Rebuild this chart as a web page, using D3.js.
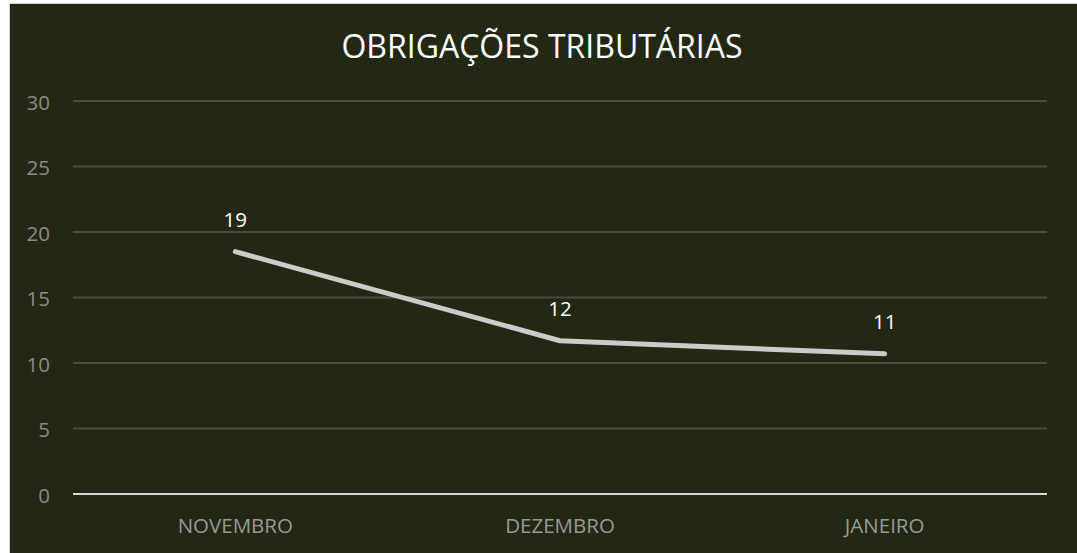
<!DOCTYPE html>
<meta charset="utf-8">
<style>
body {
  margin: 0;
  background: #fff;
}
text {
  font-family: "Open Sans", "Noto Sans", sans-serif;
}
</style>
<svg width="1077" height="553"></svg>
<script src="https://cdn.jsdelivr.net/npm/d3@7"></script>
<script>

var months = ["NOVEMBRO", "DEZEMBRO", "JANEIRO"];
var values = [18.5, 11.7, 10.7];
var yTicks = [0, 5, 10, 15, 20, 25, 30];

var svg = d3.select("svg");

// chart frame
svg.append("rect")
  .attr("x", 9.5).attr("y", 3.5)
  .attr("width", 1077).attr("height", 560)
  .attr("fill", "#222814")
  .attr("stroke", "#d0d0d0");

var x = d3.scaleBand()
  .domain(months)
  .range([73, 1047]);

var y = d3.scaleLinear()
  .domain([0, 30])
  .range([494, 101]);

// gridlines
svg.append("g")
  .selectAll("line")
  .data(yTicks)
  .enter().append("line")
  .attr("x1", 73)
  .attr("x2", 1047)
  .attr("y1", function(d) { return y(d); })
  .attr("y2", function(d) { return y(d); })
  .attr("stroke", function(d) { return d == 0 ? "#d9d9d9" : "#4a4c42"; })
  .attr("stroke-width", 2);

// y labels
svg.append("g")
  .selectAll("text")
  .data(yTicks)
  .enter().append("text")
  .attr("x", 50)
  .attr("y", function(d) { return y(d) + 8.5; })
  .attr("text-anchor", "end")
  .attr("fill", "#8c8c86")
  .attr("font-size", 20.5)
  .text(function(d) { return d; });

// x labels
svg.append("g")
  .selectAll("text")
  .data(months)
  .enter().append("text")
  .attr("x", function(d) { return x(d) + x.bandwidth() / 2; })
  .attr("y", 533)
  .attr("text-anchor", "middle")
  .attr("fill", "#9a9a94")
  .attr("font-size", 20.5)
  .text(function(d) { return d; });

var points = months.map(function(m, i) { return {month: m, value: values[i]}; });

var line = d3.line()
  .x(function(d) { return x(d.month) + x.bandwidth() / 2; })
  .y(function(d) { return y(d.value); });

svg.append("path")
  .datum(points)
  .attr("d", line)
  .attr("fill", "none")
  .attr("stroke", "#cbcbcb")
  .attr("stroke-width", 5)
  .attr("stroke-linecap", "round")
  .attr("stroke-linejoin", "round");

// data labels
svg.append("g")
  .selectAll("text")
  .data(points)
  .enter().append("text")
  .attr("x", function(d) { return x(d.month) + x.bandwidth() / 2; })
  .attr("y", function(d) { return y(d.value) - 25; })
  .attr("text-anchor", "middle")
  .attr("fill", "#ffffff")
  .attr("font-size", 20.5)
  .text(function(d) { return d3.format(".0f")(d.value); });

// title
svg.append("text")
  .attr("x", 542)
  .attr("y", 58)
  .attr("text-anchor", "middle")
  .attr("fill", "#ffffff")
  .attr("font-size", 32)
  .text("OBRIGAÇÕES TRIBUTÁRIAS");

</script>
